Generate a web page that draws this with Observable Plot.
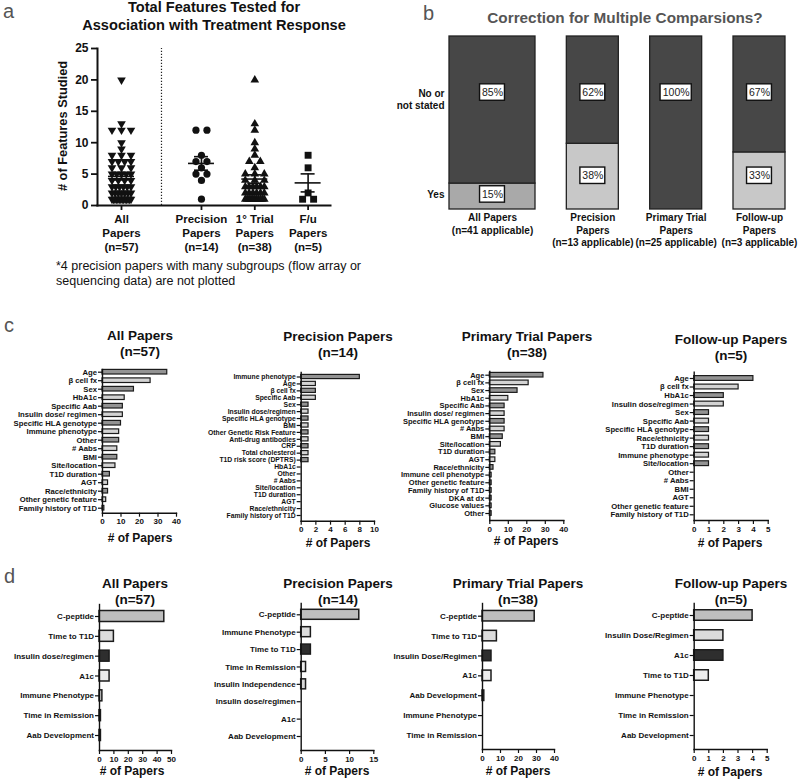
<!DOCTYPE html>
<html><head><meta charset="utf-8">
<script src="https://cdn.jsdelivr.net/npm/d3@7"></script>
<script src="https://cdn.jsdelivr.net/npm/@observablehq/plot@0.6"></script>
<style>
html,body{margin:0;padding:0;background:#fff;}
#root{position:relative;width:800px;height:779px;overflow:hidden;font-family:"Liberation Sans",Arial,Helvetica,sans-serif;color:#111;}
.lbl{position:absolute;white-space:pre;line-height:1.15;}
.ctr{transform:translate(-50%,-50%);text-align:center;}
.letter{position:absolute;font-size:20px;color:#555;line-height:1;}
</style></head>
<body><div id="root"></div>
<script>
// ================= DATA =================
// panel a : features tested per paper
const aGroupLabels = ["All\nPapers\n(n=57)", "Precision\nPapers\n(n=14)", "1° Trial\nPapers\n(n=38)", "F/u\nPapers\n(n=5)"];
const precisionFeatures = [12, 12, 8, 7, 7, 6, 5, 5, 4, 1];
const trialFeatures = [20, 13, 12, 10, 9, 8, 7, 7, 6, 5, 5, 5, 4, 4, 4, 3, 3, 3, 3, 3, 3, 2, 2, 2, 2, 2, 2, 1, 1, 1, 1, 1, 1, 1, 1, 1, 1, 1];
const followupFeatures = [8, 6, 2, 1, 1];
const aYTicks = [0, 5, 10, 15, 20, 25];

// panel b : correction for multiple comparisons (%)
const bGroups = ["All Papers", "Precision Papers", "Primary Trial Papers", "Follow-up Papers"];
const bTickLabels = ["All Papers\n(n=41 applicable)", "Precision\nPapers\n(n=13 applicable)", "Primary Trial\nPapers\n(n=25 applicable)", "Follow-up\nPapers\n(n=3 applicable)"];
const bYes = [15, 38, 0, 33];
const bNo = [85, 62, 100, 67];
const bRowLabels = ["No or\nnot stated", "Yes"];

// panel c : features (# of papers)
const cTitles = ["All Papers\n(n=57)", "Precision Papers\n(n=14)", "Primary Trial Papers\n(n=38)", "Follow-up Papers\n(n=5)"];
const cAllFeatures = ["Age", "β cell fx", "Sex", "HbA1c", "Specific Aab", "Insulin dose/ regimen", "Specific HLA genotype", "Immune phenotype", "Other", "# Aabs", "BMI", "Site/location", "T1D duration", "AGT", "Race/ethnicity", "Other genetic feature", "Family history of T1D"];
const cAllCounts = [35, 26, 17, 12, 11, 11, 10, 9, 9, 8, 8, 7, 4, 3, 3, 2, 1];
const cPrecFeatures = ["Immune phenotype", "Age", "β cell fx", "Specific Aab", "Sex", "Insulin dose/regimen", "Specific HLA genotype", "BMI", "Other Genetic Risk Feature", "Anti-drug antibodies", "CRP", "Total cholesterol", "T1D risk score (DPTRS)", "HbA1c", "Other", "# Aabs", "Site/location", "T1D duration", "AGT", "Race/ethnicity", "Family history of T1D"];
const cPrecCounts = [8, 2, 2, 2, 1, 1, 1, 1, 1, 1, 1, 1, 1, 0, 0, 0, 0, 0, 0, 0, 0];
const cTrialFeatures = ["Age", "β cell fx", "Sex", "HbA1c", "Specific Aab", "Insulin dose/ regimen", "Specific HLA genotype", "# Aabs", "BMI", "Site/location", "T1D duration", "AGT", "Race/ethnicity", "Immune cell phenotype", "Other genetic feature", "Family history of T1D", "DKA at dx", "Glucose values", "Other"];
const cTrialCounts = [29, 21, 15, 10, 8, 8, 8, 8, 7, 6, 3, 3, 2, 1, 1, 1, 1, 1, 1];
const cFuFeatures = ["Age", "β cell fx", "HbA1c", "Insulin dose/regimen", "Sex", "Specific Aab", "Specific HLA genotype", "Race/ethnicity", "T1D duration", "Immune phenotype", "Site/location", "Other", "# Aabs", "BMI", "AGT", "Other genetic feature", "Family history of T1D"];
const cFuCounts = [4, 3, 2, 2, 1, 1, 1, 1, 1, 1, 1, 0, 0, 0, 0, 0, 0];
const cTicks = [[0, 10, 20, 30, 40], [0, 2, 4, 6, 8, 10], [0, 10, 20, 30, 40], [0, 1, 2, 3, 4, 5]];

// panel d : outcomes (# of papers)
const dAllOutcomes = ["C-peptide", "Time to T1D", "Insulin dose/regimen", "A1c", "Immune Phenotype", "Time in Remission", "Aab Development"];
const dAllCounts = [45, 10, 7, 7, 2, 1, 1];
const dPrecOutcomes = ["C-peptide", "Immune Phenotype", "Time to T1D", "Time in Remission", "Insulin Independence", "Insulin dose/regimen", "A1c", "Aab Development"];
const dPrecCounts = [12, 2, 2, 1, 1, 0, 0, 0];
const dTrialOutcomes = ["C-peptide", "Time to T1D", "Insulin Dose/Regimen", "A1c", "Aab Development", "Immune Phenotype", "Time in Remission"];
const dTrialCounts = [29, 8, 5, 5, 1, 0, 0];
const dFuOutcomes = ["C-peptide", "Insulin Dose/Regimen", "A1c", "Time to T1D", "Immune Phenotype", "Time in Remission", "Aab Development"];
const dFuCounts = [4, 2, 2, 1, 0, 0, 0];
const dTicks = [[0, 10, 20, 30, 40, 50], [0, 5, 10, 15], [0, 10, 20, 30, 40], [0, 1, 2, 3, 4, 5]];
const xLabel = "# of Papers";

// ================= HELPERS =================
const FONT = '"Liberation Sans", Arial, Helvetica, sans-serif';
const root = document.getElementById("root");
function addText(txt, x, y, size, o = {}) {
  const d = document.createElement("div");
  d.className = "lbl" + (o.left ? "" : " ctr");
  d.textContent = txt;
  d.style.left = x + "px"; d.style.top = y + "px"; d.style.fontSize = size + "px";
  d.style.fontWeight = o.weight || "bold";
  if (o.color) d.style.color = o.color;
  if (o.lh) d.style.lineHeight = o.lh + "px";
  if (o.rotate) d.style.transform = "translate(-50%,-50%) rotate(-90deg)";
  root.appendChild(d);
}
function addLetter(t, x, y) {
  const d = document.createElement("div");
  d.className = "letter"; d.textContent = t;
  d.style.left = x + "px"; d.style.top = y + "px";
  root.appendChild(d);
}
function place(svg, left, top) {
  svg.style.position = "absolute"; svg.style.left = left + "px"; svg.style.top = top + "px";
  root.appendChild(svg);
}
const baseStyle = {fontFamily: FONT, background: "transparent", overflow: "visible", color: "#111"};
const intFmt = d => String(d);

// ================= PANEL a =================
{
  const L = {left: 0, top: 0, width: 340, height: 262, x0: 97, x1: 330, yTop: 48, yBottom: 205};
  const aPos = [0, 1.5, 2.5, 3.5], aDom = [-0.45, 3.92], divider = 0.75;
  const unitPx = (L.x1 - L.x0) / (aDom[1] - aDom[0]);
  const allFeatures = [...precisionFeatures, ...trialFeatures, ...followupFeatures];
  const sets = [allFeatures, precisionFeatures, trialFeatures, followupFeatures];
  const pts = [], stats = [];
  sets.forEach((vals, g) => {
    const counts = d3.rollup(vals, v => v.length, v => v);
    const seen = new Map();
    vals.forEach(v => {
      const k = counts.get(v), i = seen.get(v) || 0; seen.set(v, i + 1);
      const span = Math.min((k - 1) * 11, 19);
      const off = k > 1 ? (i / (k - 1) - 0.5) * span : 0;
      pts.push({g, v, x: aPos[g] + off / unitPx});
    });
    const m = d3.mean(vals), se = d3.deviation(vals) / Math.sqrt(vals.length);
    stats.push({x: aPos[g], mean: m, lo: m - se, hi: m + se});
  });
  const syms = ["triangle", "circle", "triangle", "square"], rots = [180, 0, 0, 0], rs = [3.2, 3.6, 3.2, 3.9];
  const meanHalf = 13 / unitPx, semHalf = 7 / unitPx;
  const svg = Plot.plot({
    width: L.width, height: L.height,
    marginLeft: L.x0 - L.left, marginRight: L.left + L.width - L.x1,
    marginTop: L.yTop - L.top, marginBottom: L.top + L.height - L.yBottom,
    x: {domain: aDom}, y: {domain: [0, 25]},
    style: baseStyle,
    marks: [
      Plot.ruleX([divider], {y1: 0, y2: 25, stroke: "#222", strokeWidth: 1.2, strokeDasharray: "1.3,1.7"}),
      Plot.axisY({ticks: aYTicks, tickFormat: intFmt, tickSize: 6, tickPadding: 3, fontSize: 12, fontWeight: "bold", strokeWidth: 1.8, label: null}),
      Plot.axisX({ticks: aPos, tickFormat: d => aGroupLabels[aPos.indexOf(d)], tickSize: 5, tickPadding: 3, fontSize: 11.5, fontWeight: "bold", lineHeight: 1.2, strokeWidth: 1.8, label: null}),
      Plot.frame({anchor: "left", strokeWidth: 2}),
      Plot.frame({anchor: "bottom", strokeWidth: 2}),
      ...sets.map((_, g) => Plot.dot(pts.filter(p => p.g === g), {x: "x", y: "v", symbol: syms[g], rotate: rots[g], r: rs[g], fill: "#111", stroke: "none"})),
      Plot.ruleY(stats, {y: "mean", x1: d => d.x - meanHalf, x2: d => d.x + meanHalf, strokeWidth: 1.6, stroke: "#111"}),
      Plot.ruleY(stats, {y: "hi", x1: d => d.x - semHalf, x2: d => d.x + semHalf, strokeWidth: 1.6, stroke: "#111"}),
      Plot.ruleY(stats, {y: "lo", x1: d => d.x - semHalf, x2: d => d.x + semHalf, strokeWidth: 1.6, stroke: "#111"}),
      Plot.ruleX(stats, {x: "x", y1: "lo", y2: "hi", strokeWidth: 1.6, stroke: "#111"})
    ]
  });
  place(svg, L.left, L.top);
  addLetter("a", 3, 1);
  addText("Total Features Tested for\nAssociation with Treatment Response", 214, 16, 14.6, {lh: 17.5});
  addText("# of Features Studied", 63, 126, 12.8, {rotate: true});
  addText("*4 precision papers with many subgroups (flow array or\nsequencing data) are not plotted", 56, 259, 12.5, {left: true, weight: "normal", lh: 14.5});
}

// ================= PANEL b =================
{
  const L = {left: 400, top: 0, width: 400, height: 262, x0: 483, x1: 785, yTop: 36, yBottom: 209};
  const data = bGroups.map((g, i) => ({g, i, yes: bYes[i], no: bNo[i], label: bTickLabels[i]}));
  const segs = [];
  data.forEach(d => {
    if (d.yes > 0) segs.push({g: d.g, i: d.i, y1: 0, y2: d.yes, fill: d.i === 0 ? "#a9a9a9" : "#c8c8c8"});
    if (d.no > 0) segs.push({g: d.g, i: d.i, y1: d.yes, y2: d.yes + d.no, fill: "#474747"});
  });
  const wideLeft = -34, shift = -17, bandW = 52;
  const noY = 67.6, boxH = 9.5;
  const labels = [];
  data.forEach(d => {
    if (d.no > 0) labels.push({g: d.g, i: d.i, text: d.no + "%", ly: noY});
    if (d.yes > 0) labels.push({g: d.g, i: d.i, text: d.yes + "%", ly: d.yes > 20 ? 19.5 : d.yes / 2 + 1.2});
  });
  const labelMarks = labels.flatMap(l => {
    const w = l.text.length * 6.3 + 6, off = l.i === 0 ? shift : 0;
    return [
      Plot.barY([l], {x: "g", y1: d => d.ly - boxH / 2, y2: d => d.ly + boxH / 2, insetLeft: (bandW - w) / 2 + off, insetRight: (bandW - w) / 2 - off, fill: "white", stroke: "#111", strokeWidth: 1.4}),
      Plot.text([l], {x: "g", y: "ly", text: "text", dx: off, fontSize: 10.5, fill: "#222"})
    ];
  });
  const rowY = [63.9, 8.7];
  const svg = Plot.plot({
    width: L.width, height: L.height,
    marginLeft: L.x0 - L.left, marginRight: L.left + L.width - L.x1,
    marginTop: L.yTop - L.top, marginBottom: L.top + L.height - L.yBottom,
    x: {type: "band", domain: bGroups, paddingInner: 0.376, paddingOuter: 0, round: false, axis: null},
    y: {domain: [0, 100], axis: null},
    color: {type: "identity"},
    style: baseStyle,
    marks: [
      Plot.barY(segs.filter(s => s.i === 0), {x: "g", y1: "y1", y2: "y2", fill: "fill", stroke: "#222", strokeWidth: 1.3, insetLeft: wideLeft}),
      Plot.barY(segs.filter(s => s.i !== 0), {x: "g", y1: "y1", y2: "y2", fill: "fill", stroke: "#222", strokeWidth: 1.3}),
      ...labelMarks,
      Plot.text(data.filter(d => d.i === 0), {x: "g", text: "label", frameAnchor: "bottom", lineAnchor: "top", dy: 3, dx: shift, fontSize: 10, fontWeight: "bold", lineHeight: 1.25, fill: "#111"}),
      Plot.text(data.filter(d => d.i !== 0), {x: "g", text: "label", frameAnchor: "bottom", lineAnchor: "top", dy: 3, fontSize: 10, fontWeight: "bold", lineHeight: 1.25, fill: "#111"}),
      Plot.text(bRowLabels.map((t, i) => ({t, y: rowY[i]})), {y: "y", text: "t", frameAnchor: "left", textAnchor: "end", dx: -39, fontSize: 10, fontWeight: "bold", lineHeight: 1.25, fill: "#111"})
    ]
  });
  place(svg, L.left, L.top);
  addLetter("b", 423, 3);
  addText("Correction for Multiple Comparsions?", 625, 18, 15.3, {color: "#555"});
}

// ================= PANELS c & d =================
function hbar(cats, counts, ticks, L, top, height, fills, yFont, xFont, sw) {
  const data = cats.map((c, i) => ({c, v: counts[i], i}));
  const n = cats.length, step = (L.last - L.first) / (n - 1), p = 1 - L.thick / step;
  return Plot.plot({
    width: L.width, height,
    marginLeft: L.x0 - L.left, marginRight: L.left + L.width - L.x1,
    marginTop: L.yTop - top, marginBottom: top + height - L.yBottom,
    x: {domain: [0, ticks[ticks.length - 1]]},
    y: {type: "band", domain: cats, range: [L.first - step / 2 - top, L.last + step / 2 - top], paddingInner: p, paddingOuter: p / 2, round: false},
    color: {type: "identity"},
    style: baseStyle,
    marks: [
      Plot.barX(data.filter(d => d.v > 0), {x: "v", y: "c", fill: d => fills[d.i % fills.length], stroke: "#1c1c1c", strokeWidth: sw}),
      Plot.axisY({tickSize: 4, tickPadding: 1.5, fontSize: yFont, fontWeight: "bold", strokeWidth: 1.2, label: null}),
      Plot.axisX({ticks, tickFormat: intFmt, tickSize: 4, tickPadding: 1.5, fontSize: xFont, fontWeight: "bold", strokeWidth: 1.2, label: null}),
      Plot.frame({anchor: "left", strokeWidth: 1.4}),
      Plot.frame({anchor: "bottom", strokeWidth: 1.4})
    ]
  });
}
{
  const top = 360, height = 190;
  const cLayout = [
    {left: 0, width: 190, x0: 102, x1: 176, yTop: 369, yBottom: 512.7, first: 371.7, last: 507.7, thick: 4.6},
    {left: 200, width: 190, x0: 300.7, x1: 374, yTop: 372, yBottom: 520.7, first: 376.5, last: 515, thick: 4.2},
    {left: 400, width: 180, x0: 489.3, x1: 563.3, yTop: 371, yBottom: 520, first: 374.7, last: 513, thick: 4.6},
    {left: 600, width: 190, x0: 693.7, x1: 767.7, yTop: 371.7, yBottom: 520, first: 378, last: 514.3, thick: 4.8}
  ];
  const feats = [cAllFeatures, cPrecFeatures, cTrialFeatures, cFuFeatures];
  const cnts = [cAllCounts, cPrecCounts, cTrialCounts, cFuCounts];
  const fills = ["#939393", "#d3d3d3"];
  const yFonts = [7.7, 6.8, 7.5, 7.7];
  const titleX = [140, 338, 527, 731], titleY = [344, 345, 345, 348];
  const labX = [140, 338, 526, 730], labY = [539, 544, 542, 544];
  cLayout.forEach((L, k) => {
    place(hbar(feats[k], cnts[k], cTicks[k], L, top, height, fills, yFonts[k], 8, 1.2), L.left, top);
    addText(cTitles[k], titleX[k], titleY[k], 13.5, {lh: 16});
    addText(xLabel, labX[k], labY[k], 12);
  });
  addLetter("c", 4, 315);
}
{
  const top = 595, height = 184;
  const dLayout = [
    {left: 0, width: 190, x0: 99, x1: 171, yTop: 604, yBottom: 750, first: 616, last: 735, thick: 11},
    {left: 200, width: 190, x0: 300.7, x1: 373.3, yTop: 603, yBottom: 750, first: 614.3, last: 736, thick: 10},
    {left: 400, width: 180, x0: 482, x1: 554, yTop: 603, yBottom: 749, first: 615.7, last: 735, thick: 10.5},
    {left: 600, width: 190, x0: 693.7, x1: 766.7, yTop: 603, yBottom: 749, first: 615, last: 735, thick: 10.5}
  ];
  const outs = [dAllOutcomes, dPrecOutcomes, dTrialOutcomes, dFuOutcomes];
  const cnts = [dAllCounts, dPrecCounts, dTrialCounts, dFuCounts];
  const fills = ["#bebebe", "#dcdcdc", "#2e2e2e", "#ececec", "#d6d6d6", "#d6d6d6", "#d6d6d6", "#d6d6d6"];
  const titleX = [135, 338, 518, 731], titleY = [592, 592, 592, 592];
  const labX = [132, 337, 518, 730], labY = [772, 772, 772, 773];
  dLayout.forEach((L, k) => {
    place(hbar(outs[k], cnts[k], dTicks[k], L, top, height, fills, 8, 8, 1.5), L.left, top);
    addText(cTitles[k], titleX[k], titleY[k], 13.5, {lh: 16});
    addText(xLabel, labX[k], labY[k], 12);
  });
  addLetter("d", 4, 566);
}
</script>
</body></html>
